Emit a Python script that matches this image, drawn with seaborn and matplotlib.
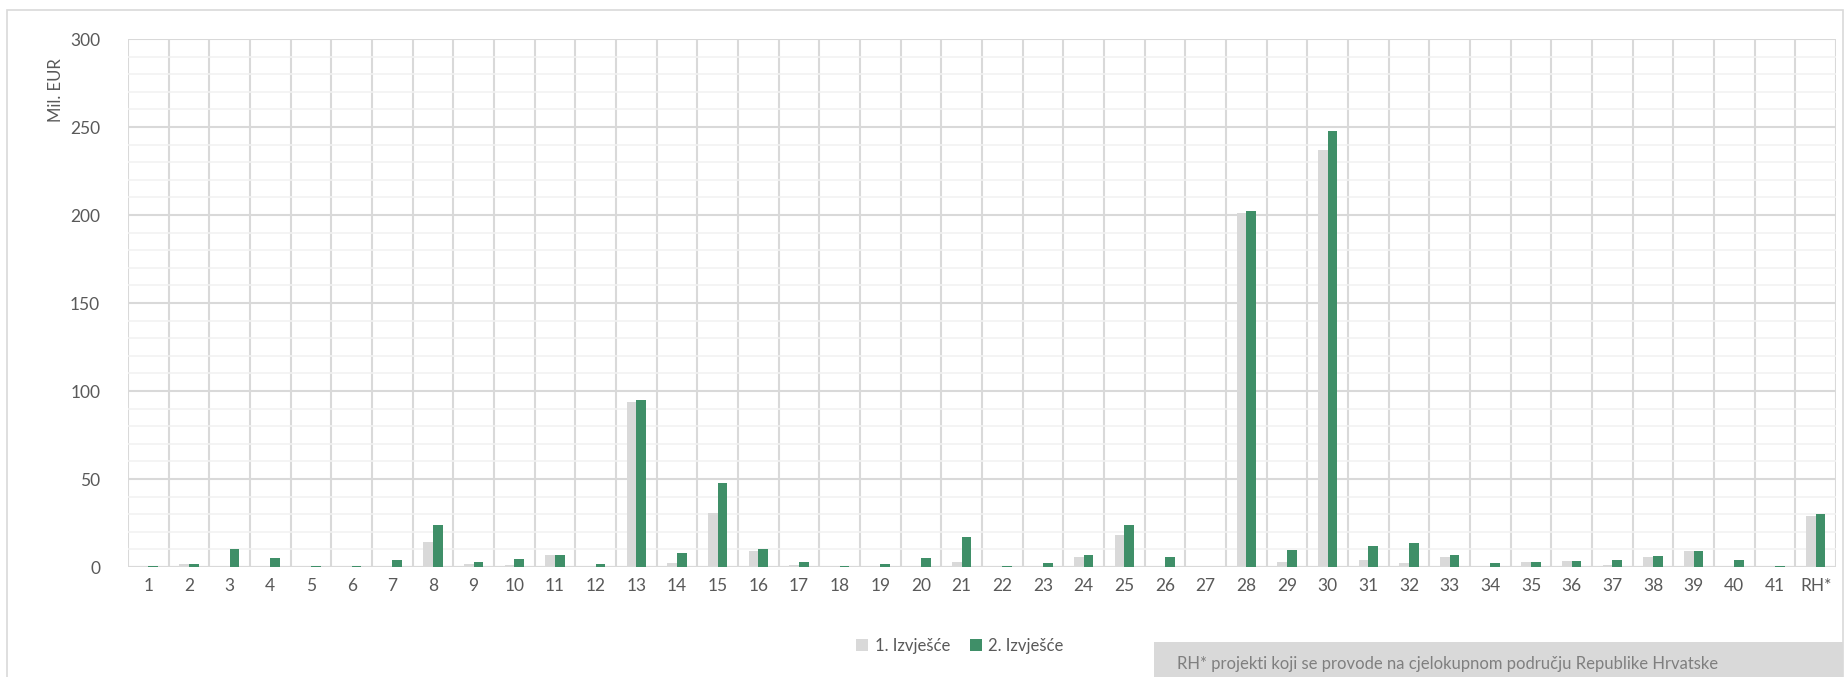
import numpy as np
import pandas as pd
import matplotlib.pyplot as plt
import seaborn as sns
from matplotlib.patches import Rectangle

categories = [str(i) for i in range(1, 42)] + ['RH*']

izvjesce_1 = [0.3, 1.5, 0.0, 0.2, 0.3, 0.0, 0.2, 14.0, 1.5, 1.1,
              6.8, 0.0, 94.0, 2.5, 30.5, 9.1, 1.1, 0.0, 0.0, 0.0,
              2.8, 0.0, 0.5, 5.7, 18.4, 0.0, 0.0, 201.0, 3.0, 237.0,
              4.0, 2.5, 5.5, 0.8, 3.0, 3.2, 1.0, 5.5, 9.0, 0.3,
              0.3, 29.0]
izvjesce_2 = [0.5, 1.5, 10.2, 4.9, 0.5, 0.4, 4.2, 23.9, 2.7, 4.7,
              7.0, 1.7, 95.0, 8.1, 48.0, 10.4, 2.7, 0.4, 1.7, 4.9,
              17.2, 0.4, 2.3, 7.0, 23.9, 5.5, 0.0, 202.0, 9.7, 248.0,
              11.9, 13.5, 7.0, 2.3, 3.0, 3.5, 4.2, 6.5, 9.0, 4.0,
              0.8, 30.0]
series_names = ['1. Izvješće', '2. Izvješće']
note_text = 'RH* projekti koji se provode na cjelokupnom području Republike Hrvatske'

df = pd.DataFrame({
    'kategorija': categories * 2,
    'vrijednost': izvjesce_1 + izvjesce_2,
    'serija': [series_names[0]] * len(categories) + [series_names[1]] * len(categories),
})

sns.set_theme(style='white')
plt.rcParams['font.family'] = ['Lato', 'DejaVu Sans']

W, H = 1845, 677
fig = plt.figure(figsize=(W / 100, H / 100), dpi=100)

# outer chart border
fig.patches.append(Rectangle((7 / W, -0.01), (W - 9) / W, 1 - 10 / H + 0.01,
                             transform=fig.transFigure, fill=False,
                             edgecolor='#d9d9d9', linewidth=1.2))

ax = fig.add_axes([128 / W, 1 - 567 / H, (1836 - 128) / W, (567 - 39) / H])

grid_col = '#d9d9d9'
minor_col = '#f2f2f2'

ax.set_ylim(0, 300)
ax.set_yticks(np.arange(0, 301, 50))
ax.set_yticks(np.arange(0, 301, 10), minor=True)
ax.grid(axis='y', which='minor', color=minor_col, linewidth=1.2, zorder=0)
ax.grid(axis='y', which='major', color=grid_col, linewidth=1.5, zorder=0)
ax.set_axisbelow(True)

sns.barplot(data=df, x='kategorija', y='vrijednost', hue='serija',
            palette=['#d9d9d9', '#3f8f68'], width=0.47, saturation=1,
            edgecolor='none', ax=ax, legend=True)

ax.set_xlim(-0.5, len(categories) - 0.5)
for b in np.arange(-0.5, len(categories), 1.0):
    ax.axvline(b, color=grid_col, linewidth=1.5, zorder=0.5)

for s in ax.spines.values():
    s.set_visible(False)
ax.axhline(0, color=grid_col, linewidth=1.5, zorder=0.6)

ax.tick_params(axis='both', which='both', length=0, labelsize=12.5,
               labelcolor='#595959')
ax.tick_params(axis='x', pad=8)
ax.tick_params(axis='y', pad=20)
ax.set_xlabel('')
ax.set_ylabel('')

fig.text(56 / W, 1 - 90 / H, 'Mil. EUR', rotation=90, ha='center', va='center',
         fontsize=12, color='#595959')

handles, labels = ax.get_legend_handles_labels()
ax.legend_.remove()
fig.legend(handles, labels, loc='center', bbox_to_anchor=(960 / W, 1 - 646 / H),
           ncol=2, frameon=False, fontsize=12, labelcolor='#595959',
           handlelength=0.7, handleheight=0.7, handletextpad=0.4, columnspacing=1.2)

# note box bottom right
fig.patches.append(Rectangle((1154 / W, 0), (1843 - 1154) / W, (677 - 642) / H,
                             transform=fig.transFigure, facecolor='#d9d9d9',
                             edgecolor='none'))
fig.text(1177 / W, 1 - 664 / H, note_text, ha='left', va='center',
         fontsize=12, color='#7f7f7f')

fig.savefig('out.png', dpi=100)
